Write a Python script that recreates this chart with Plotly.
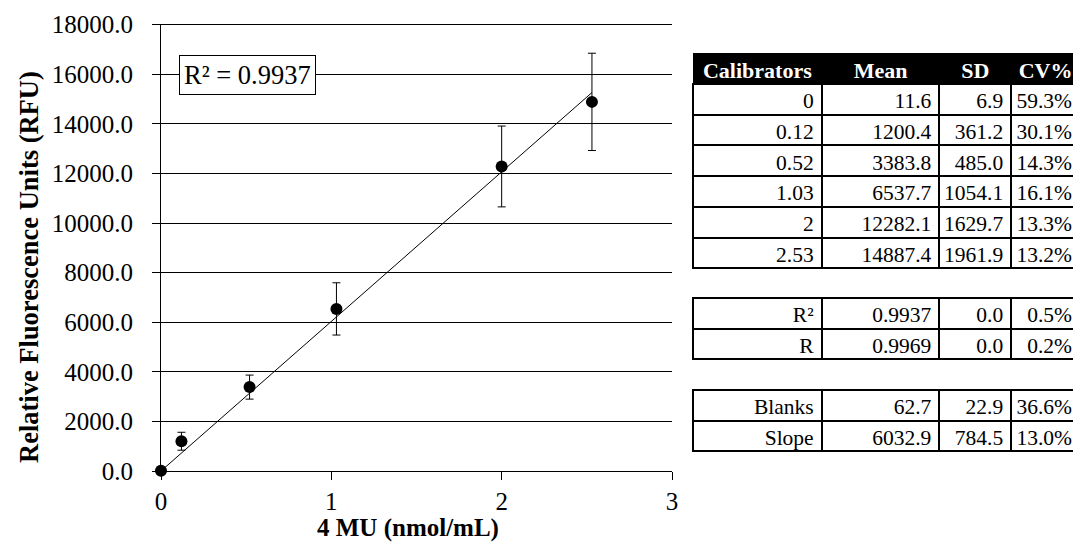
import numpy as np
import plotly.graph_objects as go

# ---- data ----
calibrators = [0, 0.12, 0.52, 1.03, 2, 2.53]
cal_labels = ["0", "0.12", "0.52", "1.03", "2", "2.53"]
means = [11.6, 1200.4, 3383.8, 6537.7, 12282.1, 14887.4]
sds = [6.9, 361.2, 485.0, 1054.1, 1629.7, 1961.9]
cvs = [0.593, 0.301, 0.143, 0.161, 0.133, 0.132]

stat_labels = ["R²", "R"]
stat_mean = [0.9937, 0.9969]
stat_sd = [0.0, 0.0]
stat_cv = [0.005, 0.002]

extra_labels = ["Blanks", "Slope"]
extra_mean = [62.7, 6032.9]
extra_sd = [22.9, 784.5]
extra_cv = [0.366, 0.130]

header_labels = ["Calibrators", "Mean", "SD", "CV%"]
r_squared = 0.9937

x_ticks = [0, 1, 2, 3]

FONT = '"Liberation Serif", "Times New Roman", serif'
OFF = 8                      # page body margin
W, H = 1081 - OFF, 543 - OFF

# fit through origin
xa = np.array(calibrators)
ya = np.array(means)
slope_fit = float((xa * ya).sum() / (xa * xa).sum())
x_fit = [0, float(xa.max())]
y_fit = [slope_fit * v for v in x_fit]

fig = go.Figure()

fig.add_trace(go.Scatter(
    x=x_fit, y=y_fit, mode="lines",
    line=dict(color="black", width=1), showlegend=False, hoverinfo="skip",
))
fig.add_trace(go.Scatter(
    x=calibrators, y=means, mode="markers", cliponaxis=False,
    marker=dict(color="black", size=12),
    error_y=dict(type="data", array=sds, visible=True, color="black",
                 thickness=1, width=4),
    showlegend=False,
))

def px_x(p):
    return (p - OFF) / W

def px_y(p):
    return (H - (p - OFF)) / H

x0, x1 = 161, 672
y0, y1 = 24.7, 471

fig.update_layout(
    width=W, height=H,
    margin=dict(l=0, r=0, t=0, b=0, autoexpand=False),
    paper_bgcolor="white", plot_bgcolor="white",
    font=dict(family=FONT, color="black", size=25),
    xaxis=dict(
        domain=[px_x(x0), px_x(x1)], range=[0, 3], automargin=False,
        tickvals=x_ticks, ticktext=[str(v) for v in x_ticks],
        ticks="outside", ticklen=8, tickcolor="black", tickwidth=1,
        showline=True, linecolor="black", linewidth=1, mirror=True,
        showgrid=False, zeroline=False,
        tickfont=dict(family=FONT, size=25, color="black"),
        ticklabelstandoff=0,
    ),
    yaxis=dict(
        domain=[px_y(y1), px_y(y0)], range=[0, 18000], dtick=2000,
        automargin=False,
        tickformat=".1f",
        ticks="outside", ticklen=8, tickcolor="black", tickwidth=1,
        showline=True, linecolor="black", linewidth=1,
        showgrid=True, gridcolor="black", gridwidth=1,
        zeroline=False,
        tickfont=dict(family=FONT, size=25, color="black"),
        ticklabelstandoff=14,
    ),
    yaxis2=dict(
        overlaying="y", side="right", anchor="x", range=[0, 18000],
        automargin=False,
        showline=True, linecolor="#808080", linewidth=1,
        showgrid=False, showticklabels=False, ticks="", zeroline=False,
    ),
)

# titles
fig.add_annotation(
    text="Relative Fluorescence Units (RFU)", textangle=-90,
    xref="paper", yref="paper", x=px_x(28.5), y=px_y(267.5),
    xanchor="center", yanchor="middle", showarrow=False,
    font=dict(family=FONT, size=26.5, color="black", weight="bold"),
)
fig.add_annotation(
    text="4 MU (nmol/mL)",
    xref="paper", yref="paper", x=px_x(408), y=px_y(528),
    xanchor="center", yanchor="middle", showarrow=False,
    font=dict(family=FONT, size=25, color="black", weight="bold"),
)
# R² box
fig.add_annotation(
    text=f"R² = {r_squared:.4f}",
    xref="paper", yref="paper", x=px_x(247), y=px_y(75),
    xanchor="center", yanchor="middle", showarrow=False,
    font=dict(family=FONT, size=26.5, color="black"),
    bordercolor="black", borderwidth=1, borderpad=4, bgcolor="white",
)

def fmt1(v):
    return f"{v:.1f}"

def fmtp(v):
    return f"{v * 100:.1f}%"

colw = [129, 118, 72, 69]
tx = [px_x(693), 1.0]
cell_font = dict(family=FONT, size=21.5, color="black")

# table 1
fig.add_trace(go.Table(
    domain=dict(x=tx, y=[px_y(296), px_y(53)]),
    columnwidth=colw,
    header=dict(
        values=header_labels,
        fill_color="black", line=dict(color="black", width=1),
        font=dict(family=FONT, size=22, color="white", weight="bold"),
        align="center", height=31,
    ),
    cells=dict(
        values=[cal_labels, [fmt1(v) for v in means], [fmt1(v) for v in sds],
                [fmtp(v) for v in cvs]],
        fill_color="white", line=dict(color="black", width=2),
        font=cell_font, align="right", height=30.7,
    ),
))

def small_table(labels, mean, sd, cv, top, mfmt):
    cols = [labels, [mfmt(v) for v in mean], [fmt1(v) for v in sd],
            [fmtp(v) for v in cv]]
    fig.add_trace(go.Table(
        domain=dict(x=tx, y=[px_y(top + 75), px_y(top)]),
        columnwidth=colw,
        header=dict(
            values=[c[0] for c in cols],
            fill_color="white", line=dict(color="black", width=2),
            font=cell_font, align="right", height=30.7,
        ),
        cells=dict(
            values=[c[1:] for c in cols],
            fill_color="white", line=dict(color="black", width=2),
            font=cell_font, align="right", height=30.7,
        ),
    ))

small_table(stat_labels, stat_mean, stat_sd, stat_cv, 298, lambda v: f"{v:.4f}")
small_table(extra_labels, extra_mean, extra_sd, extra_cv, 390, fmt1)

fig.write_html("out.html")
